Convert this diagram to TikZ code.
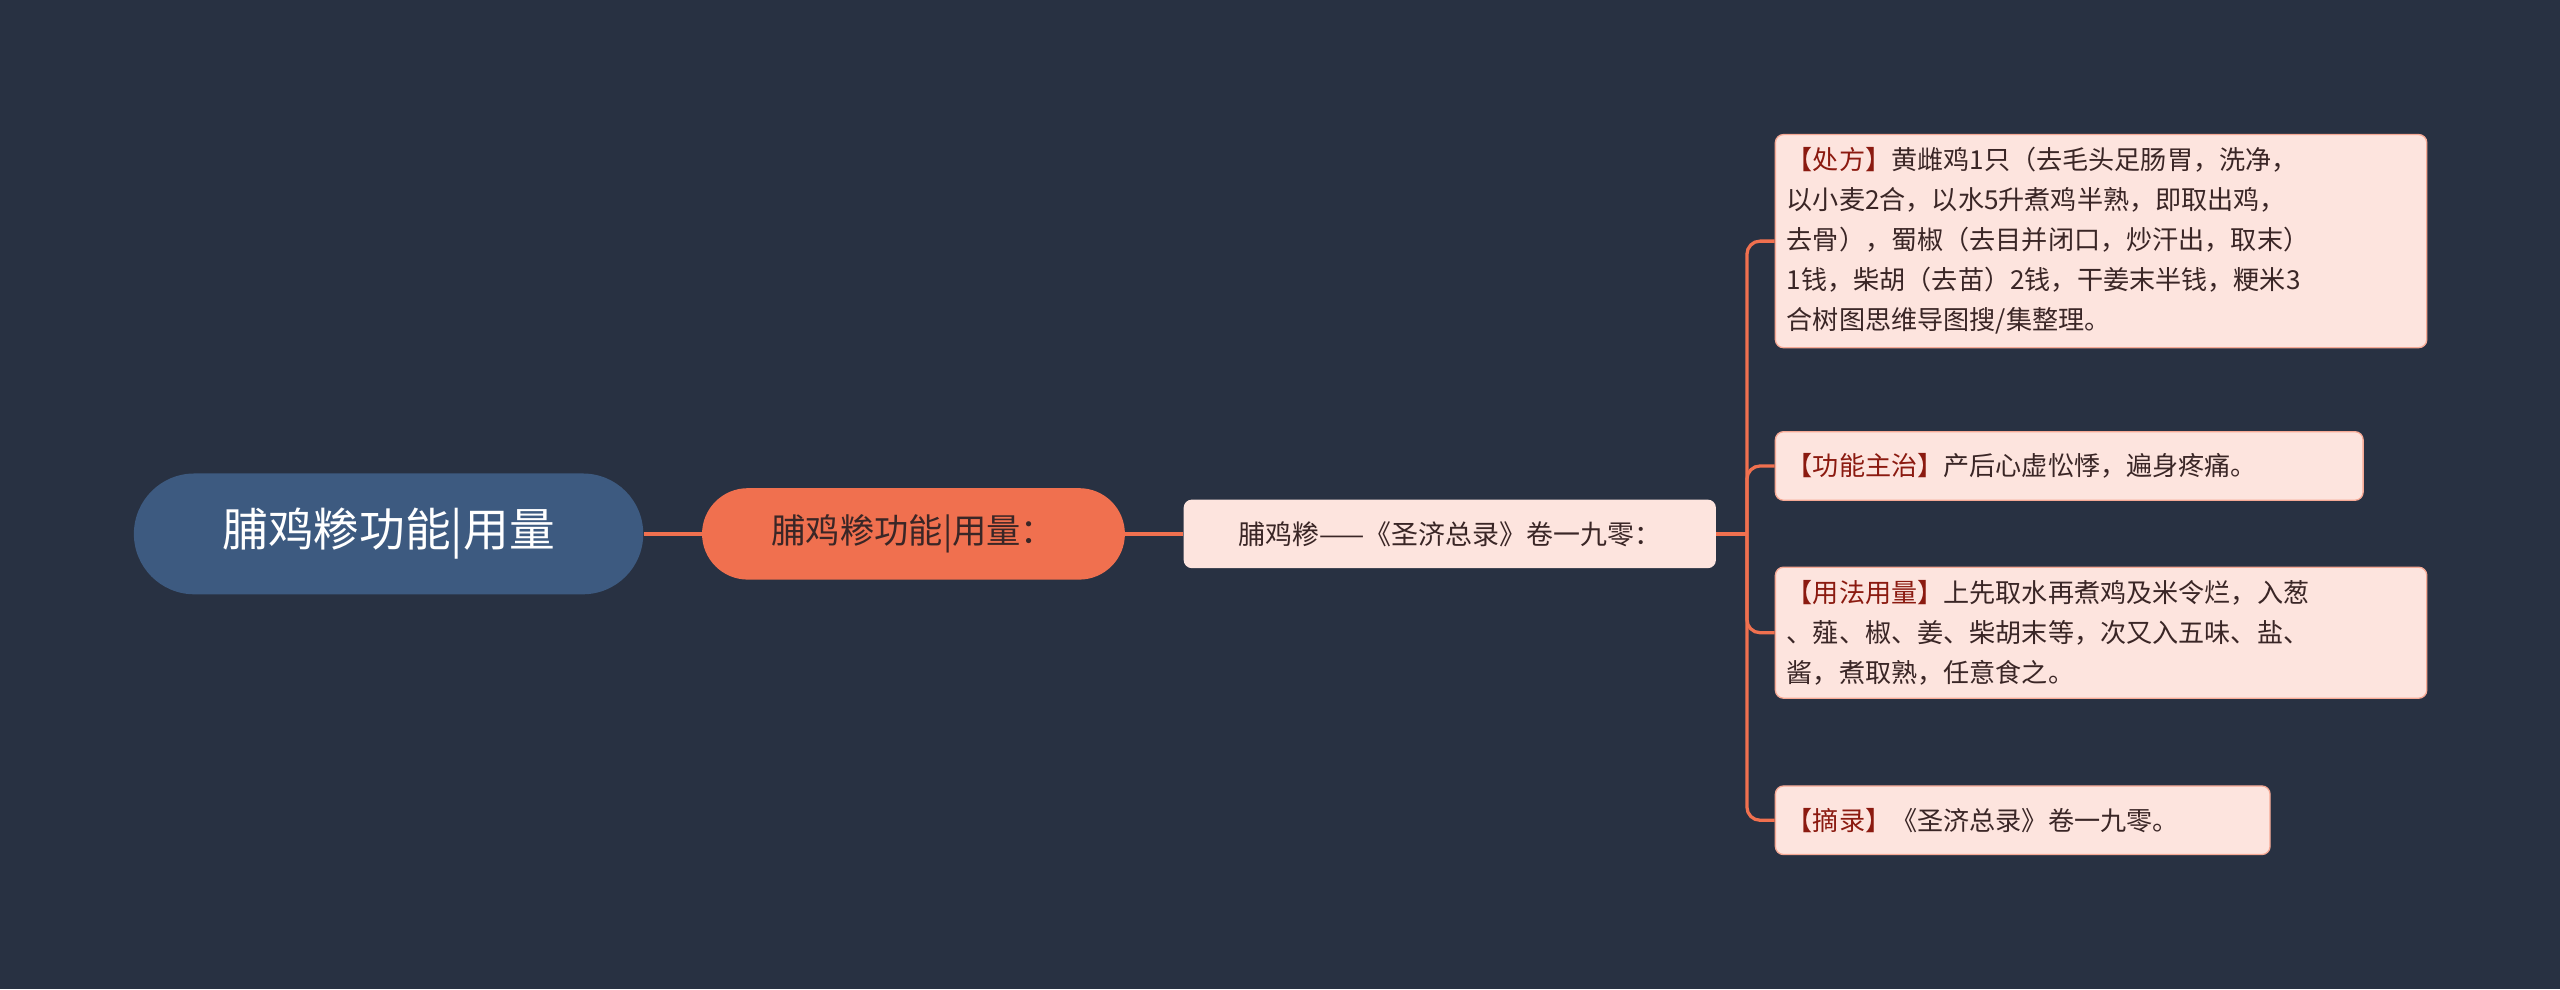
\documentclass[tikz,border=0pt]{standalone}
\usepackage{fontspec}
\setmainfont{Noto Sans CJK SC}
\definecolor{bg}{HTML}{283142}
\definecolor{rootc}{HTML}{3D5A80}
\definecolor{orange}{HTML}{F0704F}
\definecolor{leaf}{HTML}{FDE4DE}
\definecolor{txt}{HTML}{3A2626}
\definecolor{brk}{HTML}{8B1A10}
\begin{document}
\begin{tikzpicture}[x=1pt,y=-1pt,
  leafbox/.style={draw=orange!60!white,line width=0.8pt,fill=leaf,rounded corners=5pt,anchor=north west,align=left,font=\fontsize{16}{24.5}\selectfont,text=txt,inner xsep=7pt,inner ysep=8pt},
  conn/.style={draw=orange,line width=2pt}]
\useasboundingbox[fill=bg] (0,0) rectangle (1568,606);
\node[fill=rootc,rounded corners=37pt,minimum width=312pt,minimum height=74pt,text=white,font=\fontsize{28}{32}\selectfont] (root) at (238,327) {脯鸡糁功能|用量};
\node[fill=orange,rounded corners=28pt,minimum width=259pt,minimum height=56pt,text=txt,font=\fontsize{21}{24}\selectfont] (sec) at (559.5,327) {脯鸡糁功能|用量：};
\node[fill=leaf,rounded corners=5pt,minimum width=326pt,minimum height=42pt,text=txt,font=\fontsize{16.5}{20}\selectfont] (thr) at (888,327) {脯鸡糁——《圣济总录》卷一九零：};
\node[leafbox,text width=385pt] (l1) at (1087,82) {\textcolor{brk}{【处方】}黄雌鸡1只（去毛头足肠胃，洗净，\\以小麦2合，以水5升煮鸡半熟，即取出鸡，\\去骨），蜀椒（去目并闭口，炒汗出，取末）\\1钱，柴胡（去苗）2钱，干姜末半钱，粳米3\\合树图思维导图搜/集整理。};
\node[leafbox,text width=346pt,minimum height=42pt,inner ysep=5pt] (l2) at (1087,264) {\textcolor{brk}{【功能主治】}产后心虚忪悸，遍身疼痛。};
\node[leafbox,text width=385pt] (l3) at (1087,347) {\textcolor{brk}{【用法用量】}上先取水再煮鸡及米令烂，入葱\\、薤、椒、姜、柴胡末等，次又入五味、盐、\\酱，煮取熟，任意食之。};
\node[leafbox,text width=289pt,minimum height=42pt,inner ysep=5pt] (l4) at (1087,481) {\textcolor{brk}{【摘录】}《圣济总录》卷一九零。};
\coordinate (j) at (1070,327);
\draw[conn] (root.east) -- (sec.west);
\draw[conn] (sec.east) -- (thr.west);
\draw[conn] (thr.east) -- (j);
\draw[conn,rounded corners=8pt] (l1.west) -| (j) |- (l4.west);
\draw[conn,rounded corners=8pt] (l2.west) -| (j) |- (l3.west);
\end{tikzpicture}
\end{document}
